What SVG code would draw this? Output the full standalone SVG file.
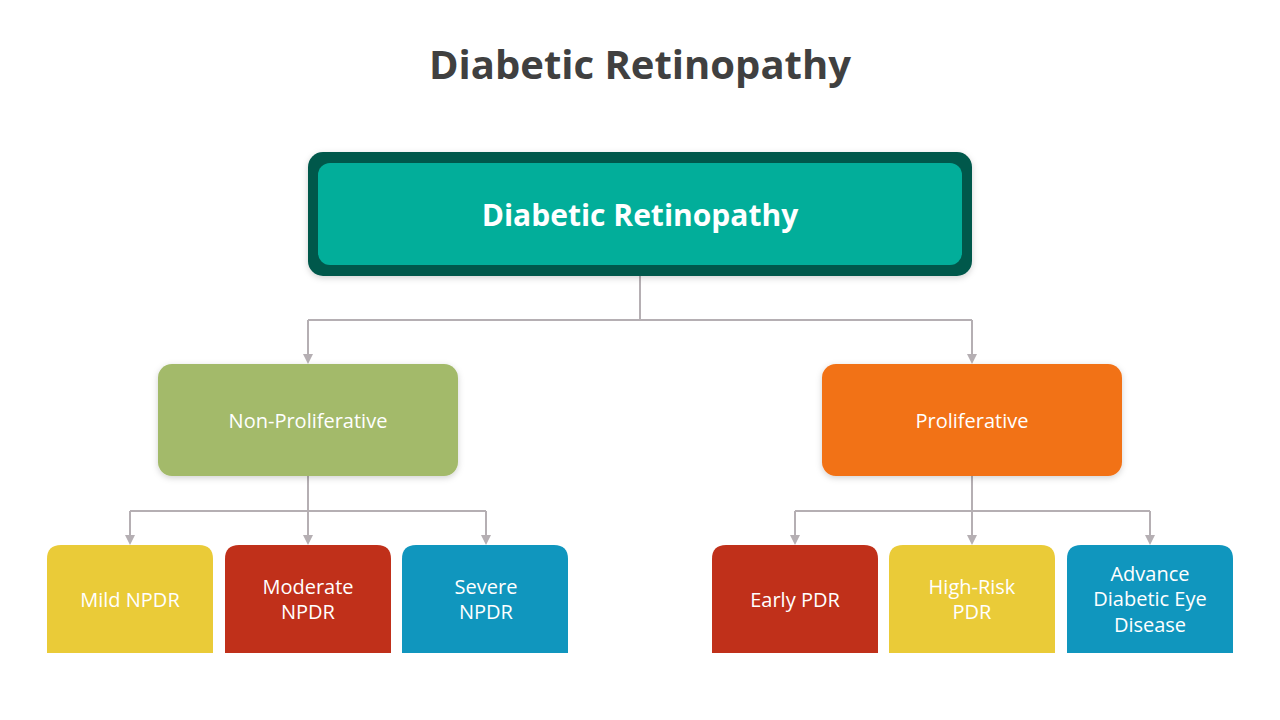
<svg xmlns="http://www.w3.org/2000/svg" width="1280" height="720" viewBox="0 0 1280 720">
<defs>
<style>
.lbl{font-family:"Open Sans","Noto Sans","DejaVu Sans",sans-serif;fill:#fff;font-size:20px;text-anchor:middle}
.conn{fill:none;stroke:#B5AFB3;stroke-width:2}
</style>
<marker id="arr" viewBox="0 0 10 10" refX="5" refY="10" markerWidth="10" markerHeight="10" markerUnits="userSpaceOnUse" orient="auto-start-reverse">
<path d="M0,0 L10,0 L5,10 Z" fill="#B5AFB3" transform="rotate(0)"/>
</marker>
<filter id="sh" x="-10%" y="-10%" width="120%" height="130%">
<feDropShadow dx="0" dy="2" stdDeviation="3" flood-color="#000" flood-opacity="0.18"/>
</filter>
</defs>
<rect width="1280" height="720" fill="#fff"/>
<text x="640" y="79" font-family="'Open Sans','Noto Sans',sans-serif" font-weight="bold" font-size="40" fill="#404040" text-anchor="middle">Diabetic Retinopathy</text>

<g id="connectors">
<path class="conn" d="M640,276 V320 M308,320 H972"/>
<path class="conn" d="M308,320 V355"/>
<path class="conn" d="M972,320 V355"/>
<path d="M303,354 L313,354 L308,364 Z" fill="#B5AFB3"/>
<path d="M967,354 L977,354 L972,364 Z" fill="#B5AFB3"/>
<path class="conn" d="M308,476 V511 M130,511 H486 M130,511 V536 M308,511 V536 M486,511 V536"/>
<path d="M125,535 L135,535 L130,545 Z M303,535 L313,535 L308,545 Z M481,535 L491,535 L486,545 Z" fill="#B5AFB3"/>
<path class="conn" d="M972,476 V511 M795,511 H1150 M795,511 V536 M972,511 V536 M1150,511 V536"/>
<path d="M790,535 L800,535 L795,545 Z M967,535 L977,535 L972,545 Z M1145,535 L1155,535 L1150,545 Z" fill="#B5AFB3"/>
</g>

<g id="root">
<rect x="308" y="152" width="664" height="124" rx="15" fill="#00584C" filter="url(#sh)"/>
<rect x="318" y="163" width="644" height="102" rx="12" fill="#02AE9A"/>
<text x="640" y="226" font-family="'Open Sans','Noto Sans',sans-serif" font-weight="bold" font-size="30" fill="#fff" text-anchor="middle">Diabetic Retinopathy</text>
</g>

<g id="nonprolif">
<rect x="158" y="364" width="300" height="112" rx="14" fill="#A3BA6A" filter="url(#sh)"/>
<text class="lbl" x="308" y="428">Non-Proliferative</text>
</g>
<g id="prolif">
<rect x="822" y="364" width="300" height="112" rx="14" fill="#F27216" filter="url(#sh)"/>
<text class="lbl" x="972" y="428">Proliferative</text>
</g>

<g id="mild">
<path d="M47,653 V559 Q47,545 61,545 H199 Q213,545 213,559 V653 Z" fill="#EACB38"/>
<text class="lbl" x="130" y="607">Mild NPDR</text>
</g>
<g id="moderate">
<path d="M225,653 V559 Q225,545 239,545 H377 Q391,545 391,559 V653 Z" fill="#C0301A"/>
<text class="lbl" x="308" y="594">Moderate</text>
<text class="lbl" x="308" y="619">NPDR</text>
</g>
<g id="severe">
<path d="M402,653 V559 Q402,545 416,545 H554 Q568,545 568,559 V653 Z" fill="#1096BE"/>
<text class="lbl" x="486" y="594">Severe</text>
<text class="lbl" x="486" y="619">NPDR</text>
</g>
<g id="early">
<path d="M712,653 V559 Q712,545 726,545 H864 Q878,545 878,559 V653 Z" fill="#C0301A"/>
<text class="lbl" x="795" y="607">Early PDR</text>
</g>
<g id="highrisk">
<path d="M889,653 V559 Q889,545 903,545 H1041 Q1055,545 1055,559 V653 Z" fill="#EACB38"/>
<text class="lbl" x="972" y="594">High-Risk</text>
<text class="lbl" x="972" y="619">PDR</text>
</g>
<g id="advance">
<path d="M1067,653 V559 Q1067,545 1081,545 H1219 Q1233,545 1233,559 V653 Z" fill="#1096BE"/>
<text class="lbl" x="1150" y="581">Advance</text>
<text class="lbl" x="1150" y="606">Diabetic Eye</text>
<text class="lbl" x="1150" y="632">Disease</text>
</g>
</svg>
